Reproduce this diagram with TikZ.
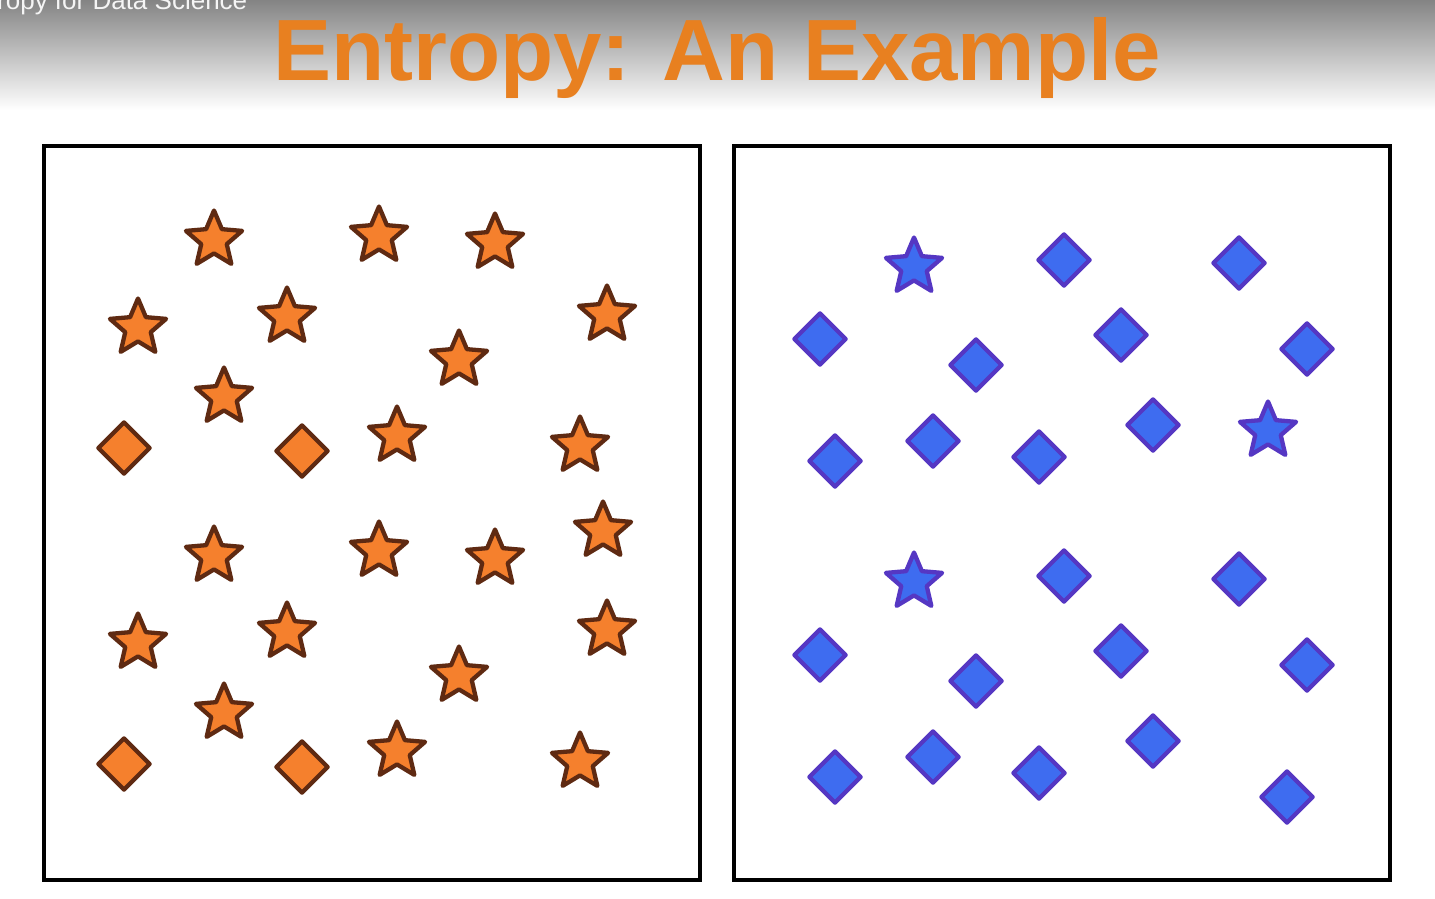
\documentclass[tikz,border=0pt]{standalone}
\usepackage{fontspec}
\setmainfont{Liberation Sans}
\usetikzlibrary{shapes.geometric}
\definecolor{ofill}{RGB}{245,128,45}
\definecolor{oline}{RGB}{95,42,18}
\definecolor{bfill}{RGB}{62,108,240}
\definecolor{bline}{RGB}{85,55,195}
\definecolor{titleor}{RGB}{232,128,32}
\definecolor{topgray}{RGB}{132,132,132}
\begin{document}
\begin{tikzpicture}[x=1pt,y=-1pt,
  sym/.style={draw, line width=4.3pt, inner sep=0pt, line join=round},
  ostar/.style={sym, star, star points=5, star point ratio=2.2, minimum size=59pt, fill=ofill, draw=oline},
  odia/.style={sym, diamond, minimum width=53pt, minimum height=53pt, fill=ofill, draw=oline},
  bstar/.style={sym, star, star points=5, star point ratio=2.2, minimum size=59pt, fill=bfill, draw=bline},
  bdia/.style={sym, diamond, minimum width=53pt, minimum height=53pt, fill=bfill, draw=bline},
  panel/.style={draw=black, line width=4pt, inner sep=0pt, minimum width=656pt, minimum height=734pt}
]
\useasboundingbox (0,0) rectangle (1435,898);
\fill[white] (0,0) rectangle (1435,898);
\shade[top color=topgray, bottom color=white] (0,0) rectangle (1435,110);
\node[anchor=base west, text=white!92!gray, font=\fontsize{26}{30}\selectfont, inner sep=0pt] (overlay) at (-3,9) {ropy for Data Science};
\node[anchor=base, text=titleor, font=\bfseries\fontsize{87}{100}\selectfont, inner sep=0pt] (title) at (717,80) {Entropy: An Example};

\node[panel] (left) at (372,513) {};
\node[panel] (right) at (1061.5,513) {};

% left panel stars
\foreach \x/\y [count=\i] in {214/240,379/236,495/243,138/328,287/317,607/315,459/360,224/397,397/436,580/446,
  214/556,379/551,495/559,603/531,138/643,287/632,607/630,459/676,224/713,397/751,580/762}
  \node[ostar] (ls\i) at (\x,\y) {};
% left panel diamonds
\foreach \x/\y [count=\i] in {124/448,302/451,124/764,302/767}
  \node[odia] (ld\i) at (\x,\y) {};

% right panel stars
\foreach \x/\y [count=\i] in {914/267,1268/431,914/582}
  \node[bstar] (rs\i) at (\x,\y) {};
% right panel diamonds
\foreach \x/\y [count=\i] in {1064/260,1239/263,820/339,976/365,1121/335,1307/349,835/461,933/441,1039/457,1153/425,
  1064/576,1239/579,820/655,976/681,1121/651,1307/665,835/777,933/757,1039/773,1153/741,1287/797}
  \node[bdia] (rd\i) at (\x,\y) {};
\end{tikzpicture}
\end{document}
